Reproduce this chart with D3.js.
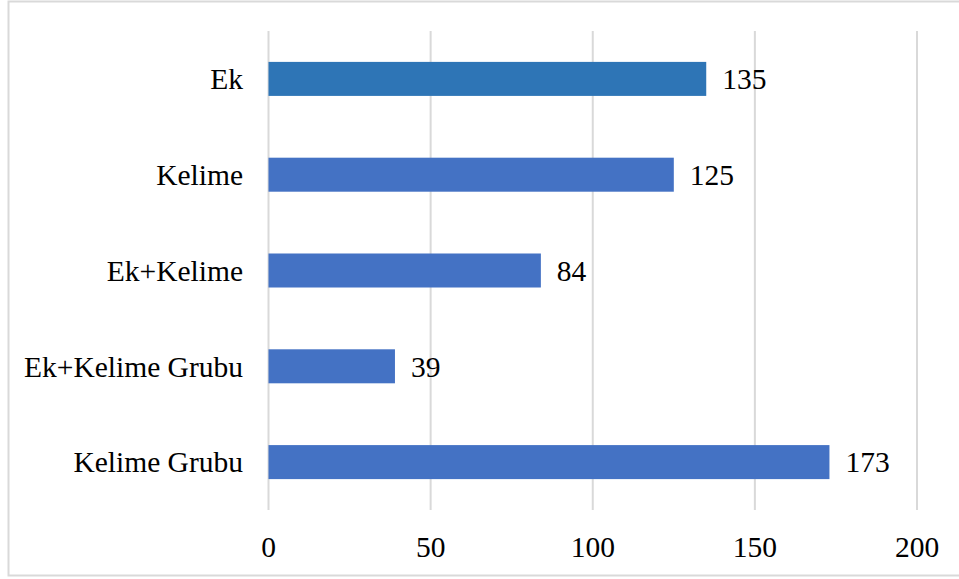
<!DOCTYPE html>
<html>
<head>
<meta charset="utf-8">
<script src="https://cdn.jsdelivr.net/npm/d3@7"></script>
<style>
  html, body { margin: 0; padding: 0; background: #fff; }
  svg { display: block; }
</style>
</head>
<body>
<svg id="chart" width="959" height="579"></svg>
<script>
// Category names, top to bottom
const categories = ["Ek", "Kelime", "Ek+Kelime", "Ek+Kelime Grubu", "Kelime Grubu"];
// Counts per category
const values = [135, 125, 84, 39, 173];
// Bar fills per category
const barColors = ["#2E75B6", "#4472C4", "#4472C4", "#4472C4", "#4472C4"];
// X axis ticks
const xTicks = [0, 50, 100, 150, 200];

const FONT = "Liberation Serif";

const svg = d3.select("#chart");
const W = 959;
const plot = { left: 268.5, right: 917, top: 31, bottom: 510 };

// Outer frame
svg.append("rect")
  .attr("x", 8.5).attr("y", 1.5)
  .attr("width", W + 10).attr("height", 574)
  .attr("fill", "#fff").attr("stroke", "#D9D9D9").attr("stroke-width", 2);

const x = d3.scaleLinear().domain([0, 200]).range([plot.left, plot.right]);
const y = d3.scaleBand().domain(categories).range([plot.top, plot.bottom]).paddingInner(0.645).paddingOuter(0.3225);

// Vertical gridlines
svg.append("g").selectAll("line").data(xTicks).join("line")
  .attr("x1", d => x(d)).attr("x2", d => x(d))
  .attr("y1", plot.top).attr("y2", plot.bottom)
  .attr("stroke", "#D9D9D9").attr("stroke-width", 2);

const textStyle = sel => sel
  .style("font-family", FONT)
  .style("font-size", "29.5px")
  .attr("fill", "#000");

// Tick labels
svg.append("g").selectAll("text").data(xTicks).join("text")
  .attr("x", d => x(d)).attr("y", 557)
  .attr("text-anchor", "middle")
  .call(textStyle)
  .text(d => d);

const data = categories.map((c, i) => ({ c, v: values[i], col: barColors[i] }));

// Bars
svg.append("g").selectAll("rect").data(data).join("rect")
  .attr("x", x(0)).attr("y", d => y(d.c))
  .attr("width", d => x(d.v) - x(0)).attr("height", y.bandwidth())
  .attr("fill", d => d.col);

// Value labels
svg.append("g").selectAll("text").data(data).join("text")
  .attr("x", d => x(d.v) + 16).attr("y", d => y(d.c) + y.bandwidth() / 2)
  .attr("dy", "0.35em")
  .call(textStyle)
  .text(d => d.v);

// Category labels
svg.append("g").selectAll("text").data(data).join("text")
  .attr("x", 243).attr("y", d => y(d.c) + y.bandwidth() / 2)
  .attr("dy", "0.35em")
  .attr("text-anchor", "end")
  .call(textStyle)
  .text(d => d.c);
</script>
</body>
</html>
